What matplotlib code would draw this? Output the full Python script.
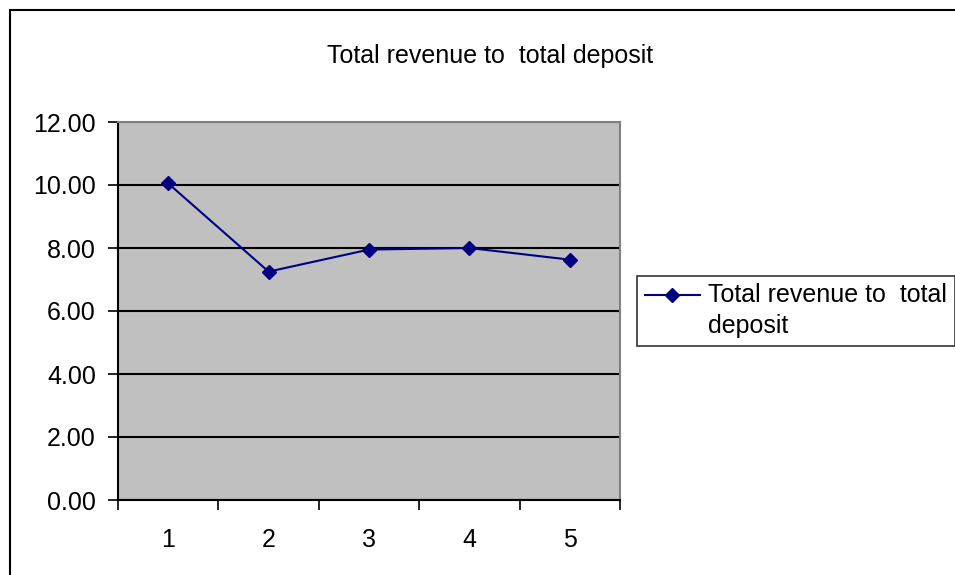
import matplotlib
matplotlib.use("Agg")
import matplotlib.pyplot as plt
from matplotlib.patches import Rectangle
from matplotlib.ticker import FixedLocator, FixedFormatter
from matplotlib.legend_handler import HandlerLine2D

# data
years = [1, 2, 3, 4, 5]
ratio = [10.05, 7.25, 7.95, 8.00, 7.63]
series_name = "Total revenue to  total\ndeposit"
title = "Total revenue to  total deposit"

plt.rcParams['font.family'] = ['Liberation Sans', 'DejaVu Sans']
FS = 18
LSP = 1.35


# put the legend line next to the first text line, like Excel does
class FirstLineHandler(HandlerLine2D):
    def create_artists(self, legend, orig_handle, xdescent, ydescent,
                       width, height, fontsize, trans):
        return super().create_artists(legend, orig_handle, xdescent,
                                      ydescent - LSP * fontsize, width, height,
                                      fontsize, trans)


fig = plt.figure(figsize=(9.55, 5.75), dpi=100)

# chart frame, cut off on the right and bottom as in the reference
fig.patches.append(Rectangle((10 / 955, -0.1), 1.2, 1 - 10 / 575 + 0.1,
                             transform=fig.transFigure, fill=False,
                             edgecolor='black', linewidth=1.5))

ax = fig.add_axes([118 / 955, 75 / 575, 502 / 955, 378 / 575])
ax.set_facecolor('#C0C0C0')

line, = ax.plot(years, ratio, color='#000080', linewidth=1.5, marker='D',
                markersize=7.5, label=series_name, zorder=3)

ax.set_xlim(0.5, 5.5)
ax.set_ylim(0, 12)
ax.set_yticks([0, 2, 4, 6, 8, 10, 12])
ax.set_yticklabels(["%.2f" % v for v in [0, 2, 4, 6, 8, 10, 12]])
ax.yaxis.grid(True, color='black', linewidth=1.5)
ax.set_axisbelow(True)

# category axis: ticks between categories, labels in the middle
ax.xaxis.set_major_locator(FixedLocator([0.5, 1.5, 2.5, 3.5, 4.5, 5.5]))
ax.xaxis.set_major_formatter(FixedFormatter([]))
ax.xaxis.set_minor_locator(FixedLocator(years))
ax.xaxis.set_minor_formatter(FixedFormatter([str(y) for y in years]))
ax.tick_params(axis='x', which='major', direction='out', length=7, width=1.2)
ax.tick_params(axis='x', which='minor', length=0, pad=20, labelsize=FS)
ax.tick_params(axis='y', direction='out', length=7, width=1.2, pad=9, labelsize=FS)

for s in ['left', 'bottom']:
    ax.spines[s].set_color('black')
    ax.spines[s].set_linewidth(1.5)
for s in ['top', 'right']:
    ax.spines[s].set_color('#808080')
    ax.spines[s].set_linewidth(1.5)

fig.text(490 / 955, 1 - 56 / 575, title, ha='center', va='center', fontsize=FS)

leg = fig.legend(handles=[line], loc='upper left',
                 bbox_to_anchor=(637 / 955, 1 - 276 / 575),
                 frameon=True, fancybox=False, edgecolor='black', fontsize=FS,
                 handlelength=2.2, handletextpad=0.35, borderpad=0.3,
                 borderaxespad=0, handler_map={line: FirstLineHandler()})
leg.get_frame().set_linewidth(1.2)
for t in leg.get_texts():
    t.set_linespacing(LSP)

fig.savefig("out.png", dpi=100)
